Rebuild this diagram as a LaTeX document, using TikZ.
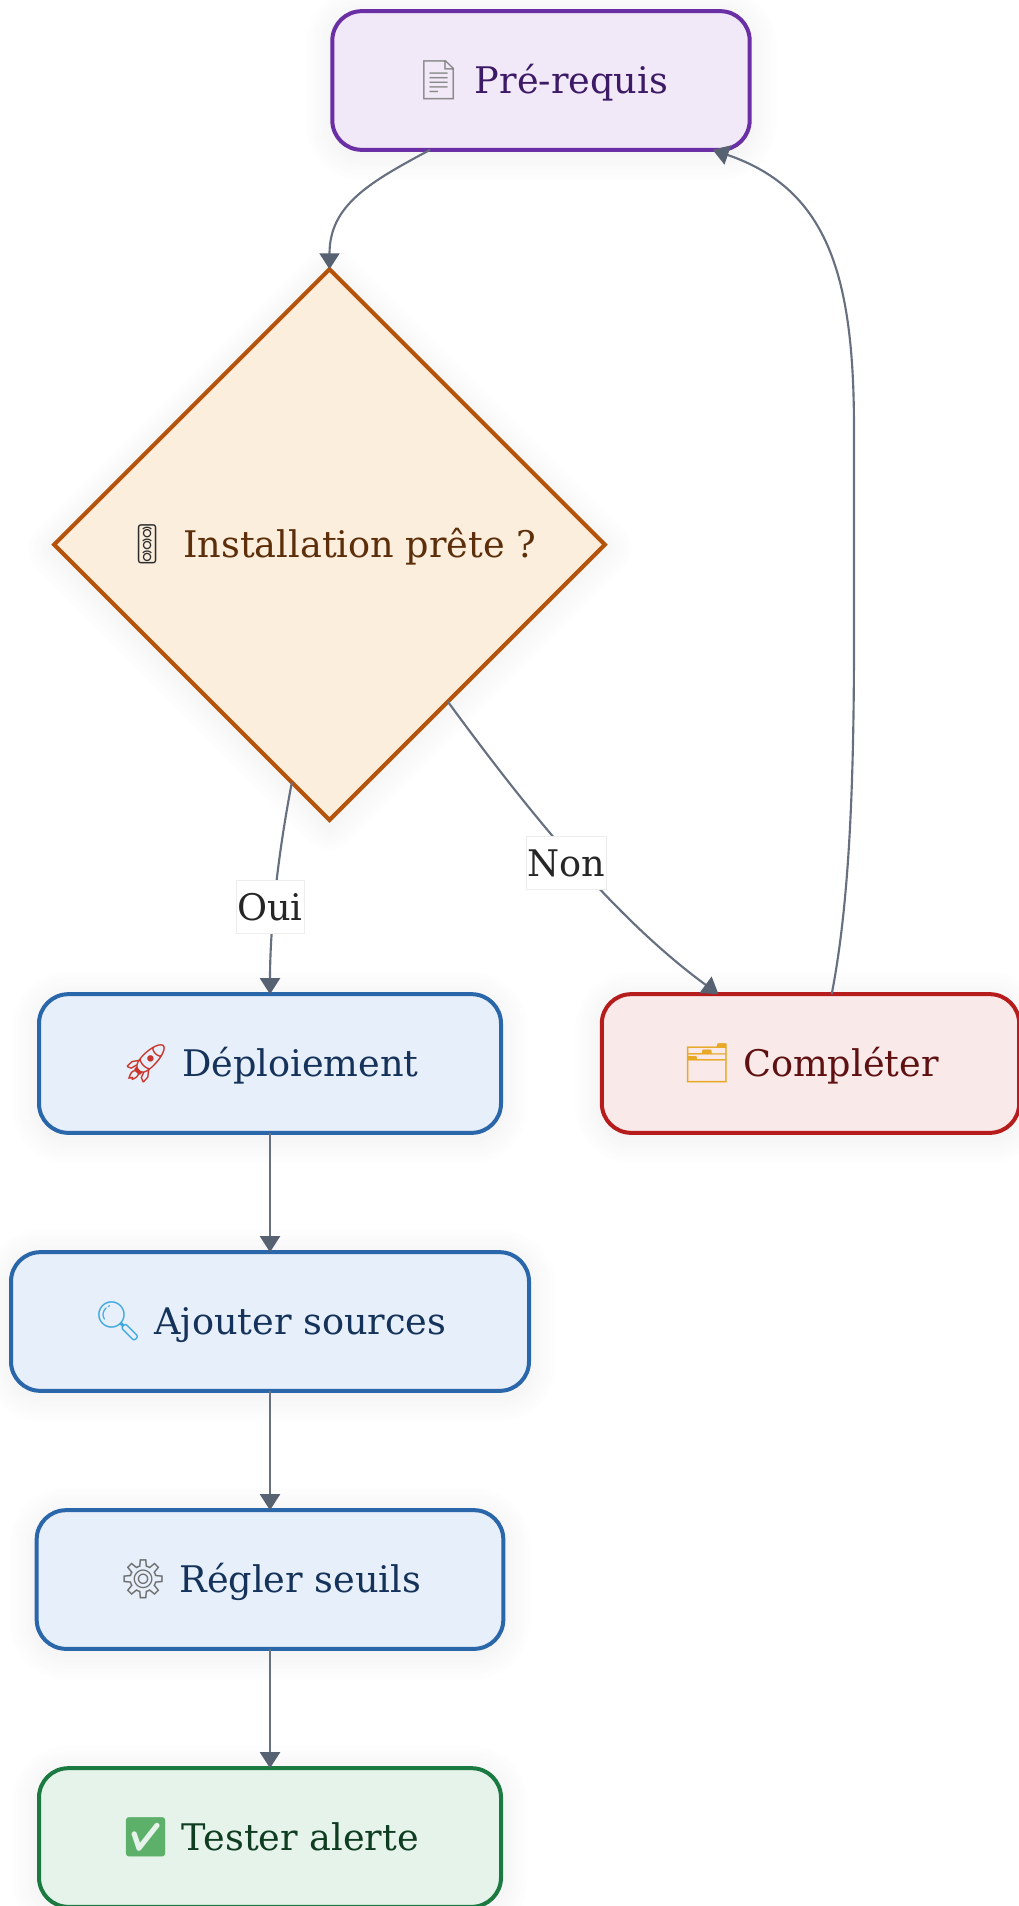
\documentclass[tikz,border=0pt]{standalone}
\usepackage{fontspec}
\setmainfont{DejaVu Serif}
\newfontfamily\emojifont{Noto Emoji}
\usetikzlibrary{arrows.meta,shapes.geometric,shadows.blur}
\definecolor{edgegray}{HTML}{667080}
\definecolor{tipgray}{HTML}{566172}
\definecolor{purpleline}{HTML}{6B2FA5}
\definecolor{purplefill}{HTML}{F1E8F8}
\definecolor{purpletext}{HTML}{3D1A66}
\definecolor{brownline}{HTML}{B5530A}
\definecolor{brownfill}{HTML}{FBEEDD}
\definecolor{browntext}{HTML}{5C2E0A}
\definecolor{blueline}{HTML}{2A66AA}
\definecolor{bluefill}{HTML}{E7EFFA}
\definecolor{bluetext}{HTML}{15335A}
\definecolor{redline}{HTML}{B71C1C}
\definecolor{redfill}{HTML}{F9E9E9}
\definecolor{redtext}{HTML}{5F1010}
\definecolor{greenline}{HTML}{1A7A40}
\definecolor{greenfill}{HTML}{E5F3EA}
\definecolor{greentext}{HTML}{0F3D22}
\definecolor{pageicon}{HTML}{8A8A8A}
\definecolor{lighticon}{HTML}{2E2E2E}
\definecolor{rocketicon}{HTML}{C9352B}
\definecolor{foldericon}{HTML}{E9A825}
\definecolor{lensicon}{HTML}{3FA9E0}
\definecolor{gearicon}{HTML}{6E6E6E}
\definecolor{checkicon}{HTML}{5CB06A}
\newcommand{\emo}[2]{{\emojifont\fontsize{29pt}{29pt}\selectfont\textcolor{#1}{#2}}}
\begin{document}
\begin{tikzpicture}[x=0.75pt,y=-0.75pt,node distance=193.5pt,
  soft/.style = {blur shadow={shadow xshift=0pt,shadow yshift=-3pt,shadow blur radius=22pt,shadow blur steps=16,shadow opacity=8}},
  main/.style = {draw, rounded corners=22pt, line width=3pt, outer sep=0pt, minimum height=104pt, text height=26pt, text depth=6.3pt, font=\fontsize{27.5pt}{32pt}\selectfont, soft},
  plan/.style = {main, draw=blueline, fill=bluefill, text=bluetext},
  edge/.style = {draw=edgegray, line width=1.6pt, -{Triangle[length=12pt,width=15pt,color=tipgray]}},
  tag/.style = {fill=white, draw=black!7, line width=0.4pt, inner sep=1pt, minimum width=50pt, minimum height=40pt, text=black!85, font=\fontsize{27.5pt}{32pt}\selectfont}]
\useasboundingbox (0,0) rectangle (1019,1906);
\node[main, draw=purpleline, fill=purplefill, text=purpletext, minimum width=313pt] (1) at (541,80.5) {\emo{pageicon}{📄} Pré-requis};
\node[draw=brownline, fill=brownfill, text=browntext, diamond, aspect=1, line width=3pt, outer sep=0pt, inner sep=0pt, minimum width=413pt, minimum height=413pt, text height=26pt, text depth=6.3pt, font=\fontsize{27.5pt}{32pt}\selectfont, soft] (2) at (329.5,544.6) {\emo{lighticon}{🚦} Installation prête ?};
\node[plan, minimum width=346.5pt] (3) at (270,1063.5) {\emo{rocketicon}{🚀} Déploiement};
\node[main, draw=redline, fill=redfill, text=redtext, minimum width=313pt] (4) at (810.5,1063.5) {\emo{foldericon}{🗂} Compléter};
\node[plan, minimum width=388.5pt] (5) [below of=3] {\emo{lensicon}{🔍} Ajouter sources};
\node[plan, minimum width=350pt] (6) [below of=5] {\emo{gearicon}{⚙} Régler seuils};
\node[main, draw=greenline, fill=greenfill, text=greentext, minimum width=346.5pt] (7) [below of=6] {\emo{checkicon}{✅} Tester alerte};
\draw[edge] (1.212) .. controls (370,182) and (329.5,205) .. (2.north);
\draw[edge] (2.261.3) .. controls (277,860) and (270,930) .. (3.north);
\draw[edge] (2.307) .. controls (520,800) and (610,915) .. (4.143.4);
\draw[edge] (4.73.6) .. controls (848,910) and (854,800) .. (854,640) -- (854,430) .. controls (854,280) and (830,190) .. (1.338.3);
\draw[edge] (3) -- (5);
\draw[edge] (5) -- (6);
\draw[edge] (6) -- (7);
\node[tag] (8) at (270,907) {Oui};
\node[tag] (9) at (566.5,863) {Non};
\end{tikzpicture}
\end{document}
